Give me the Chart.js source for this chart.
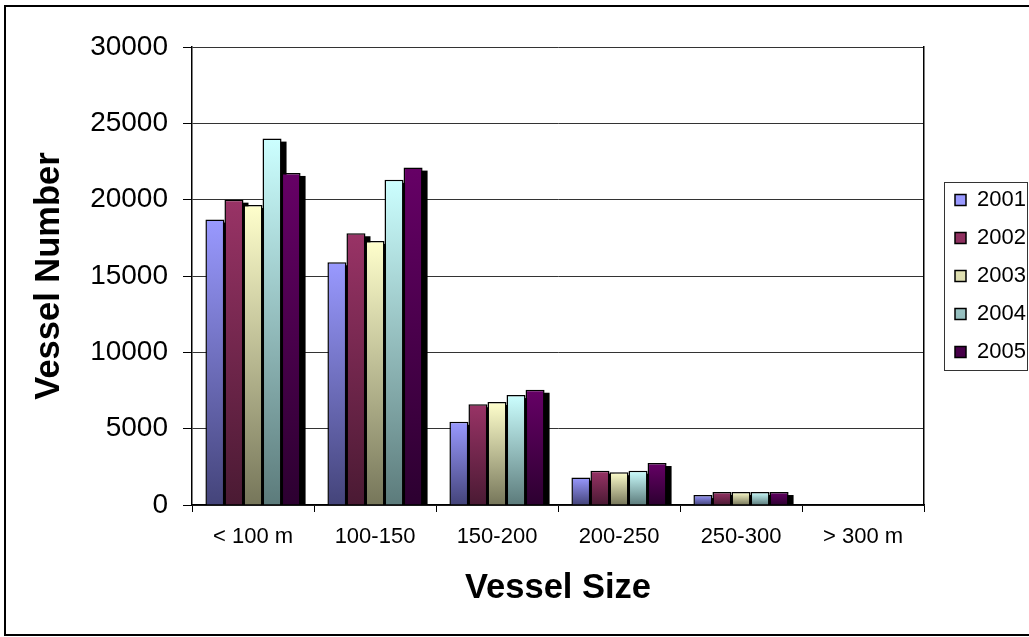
<!DOCTYPE html>
<html>
<head>
<meta charset="utf-8">
<script src="https://cdn.jsdelivr.net/npm/chart.js@4.4.1/dist/chart.umd.min.js"></script>
<style>
  html, body { margin: 0; padding: 0; background: #fff; }
  canvas { display: block; }
</style>
</head>
<body>
<canvas id="myChart" width="1029" height="637"></canvas>
<script>
// data
var categories = ['< 100 m', '100-150', '150-200', '200-250', '250-300', '> 300 m'];
var years = ['2001', '2002', '2003', '2004', '2005'];
var v2001 = [18700, 15900, 5450, 1800, 650, 0];
var v2002 = [20000, 17800, 6600, 2250, 850, 0];
var v2003 = [19650, 17300, 6750, 2150, 850, 0];
var v2004 = [24000, 21300, 7200, 2250, 850, 0];
var v2005 = [21750, 22100, 7550, 2750, 850, 0];
var yTicks = [0, 5000, 10000, 15000, 20000, 25000, 30000];

// gradient ends (top, bottom, legend swatch)
var shades = [
  ['#9999ff', '#44447a', '#8080cc'],
  ['#993366', '#4a1a33', '#7a2a50'],
  ['#ffffcc', '#76765a', '#dcdcaa'],
  ['#ccffff', '#5c7b7b', '#a8d4d4'],
  ['#660066', '#2c0030', '#4a004a']
];

function barFill(i) {
  return function (c) {
    if (c.type !== 'data' || !c.chart.chartArea) return shades[i][2];
    var y = c.chart.scales.y;
    var top = y.getPixelForValue(c.raw);
    var base = y.getPixelForValue(0);
    if (base - top < 1) return shades[i][0];
    var g = c.chart.ctx.createLinearGradient(0, top, 0, base);
    g.addColorStop(0, shades[i][0]);
    g.addColorStop(1, shades[i][1]);
    return g;
  };
}

var series = [v2001, v2002, v2003, v2004, v2005];
var datasets = series.map(function (vals, i) {
  return {
    label: years[i],
    data: vals,
    backgroundColor: barFill(i),
    borderColor: '#000',
    borderWidth: 1.5,
    categoryPercentage: 0.78,
    barPercentage: 1
  };
});

// excel-like drop shadow behind the bars
var barShadow = {
  id: 'barShadow',
  beforeDatasetsDraw: function (chart) {
    var ctx = chart.ctx, a = chart.chartArea;
    ctx.save();
    ctx.beginPath();
    ctx.rect(a.left, a.top, a.right - a.left, a.bottom - a.top);
    ctx.clip();
    ctx.fillStyle = '#000';
    chart.data.datasets.forEach(function (ds, i) {
      chart.getDatasetMeta(i).data.forEach(function (bar) {
        var h = bar.base - bar.y;
        if (h <= 0) return;
        ctx.fillRect(bar.x - bar.width / 2 + 5, bar.y + 3, bar.width, h);
      });
    });
    ctx.restore();
  }
};

// outer frame + legend frame
var frames = {
  id: 'frames',
  afterDraw: function (chart) {
    var ctx = chart.ctx, a = chart.chartArea;
    ctx.save();
    ctx.strokeStyle = '#000';
    ctx.lineWidth = 2;
    ctx.strokeRect(5, 6, 1100, 629);
    var mid = (a.top + a.bottom) / 2;
    ctx.lineWidth = 1;
    ctx.strokeStyle = '#333';
    ctx.strokeRect(chart.legend.left + 5.5, mid - 94 + 0.5, 1027 - chart.legend.left - 5, 188);
    ctx.restore();
  }
};

Chart.defaults.font.family = "'Liberation Sans', Arial, sans-serif";
Chart.defaults.color = '#000';

var ctx = document.getElementById('myChart').getContext('2d');
var myChart = new Chart(ctx, {
  type: 'bar',
  data: { labels: categories, datasets: datasets },
  plugins: [barShadow, frames],
  options: {
    responsive: false,
    animation: false,
    layout: { padding: { top: 47, left: 0, right: 0, bottom: 0 } },
    plugins: {
      tooltip: { enabled: false },
      legend: {
        position: 'right',
        align: 'center',
        fullSize: false,
        maxWidth: 90,
        labels: {
          boxWidth: 11,
          boxHeight: 11,
          padding: 16,
          color: '#000',
          font: { size: 22 }
        }
      }
    },
    scales: {
      x: {
        grid: { drawOnChartArea: false, drawTicks: true, tickLength: 7, offset: true, tickColor: '#000', tickWidth: 1 },
        border: { display: true, color: '#000', width: 1.5 },
        ticks: { padding: 12, font: { size: 22 }, color: '#000', maxRotation: 0 },
        title: { display: true, text: 'Vessel Size', font: { size: 34.5, weight: 'bold' }, color: '#000', padding: { top: 0, bottom: 27.6 } },
        afterFit: function (s) { s.height = 132; }
      },
      y: {
        min: 0,
        max: 30000,
        afterBuildTicks: function (s) { s.ticks = yTicks.map(function (v) { return { value: v }; }); },
        grid: { color: '#333', lineWidth: 1, drawTicks: true, tickLength: 9, tickColor: '#000' },
        border: { display: true, color: '#000', width: 1.5 },
        ticks: { padding: 15, font: { size: 28 }, color: '#000', callback: function (v) { return String(v); } },
        title: { display: true, text: 'Vessel Number', font: { size: 34.5, weight: 'bold' }, color: '#000', padding: { top: 28.8, bottom: 0 } },
        afterFit: function (s) { s.width = 192; }
      },
      y2: {
        position: 'right',
        grid: { drawOnChartArea: false, drawTicks: false },
        border: { display: true, color: '#000', width: 1.5 },
        ticks: { display: false },
        afterFit: function (s) { s.width = 15; }
      }
    }
  }
});
</script>
</body>
</html>
